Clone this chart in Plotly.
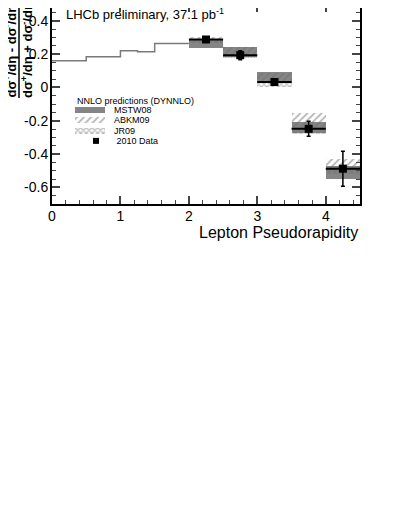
import plotly.graph_objects as go

# ── Data ─────────────────────────────────────────────────────────────────────
# low-eta prediction drawn as a grey step line
step_edges = [0.0, 0.5, 1.0, 1.25, 1.5, 2.0]
step_values = [0.159, 0.183, 0.219, 0.213, 0.263]

# measured bins (2010 data)
bin_centers = [2.25, 2.75, 3.25, 3.75, 4.25]
bin_halfwidth = [0.25, 0.25, 0.25, 0.25, 0.25]
data_asym = [0.287, 0.193, 0.032, -0.249, -0.488]
data_err = [0.008, 0.027, 0.010, 0.045, 0.105]

# NNLO prediction bands (low, high)
mstw_lo = [0.237, 0.183, 0.024, -0.275, -0.550]
mstw_hi = [0.285, 0.243, 0.090, -0.205, -0.474]
abkm_lo = [0.275, 0.190, 0.030, -0.240, -0.500]
abkm_hi = [0.305, 0.245, 0.085, -0.155, -0.428]
jr_lo = [0.265, 0.178, 0.005, -0.280, -0.520]
jr_hi = [0.285, 0.195, 0.030, -0.250, -0.490]

x_ticks = [0, 1, 2, 3, 4]
y_ticks = [-0.6, -0.4, -0.2, 0, 0.2, 0.4]
y_ticktext = ["-0.6", "-0.4", "-0.2", "0", "0.2", "0.4"]

legend_header = "NNLO predictions (DYNNLO)"
legend_names = ["MSTW08", "ABKM09", "JR09", " 2010 Data"]

# ── Styles / layout helpers ──────────────────────────────────────────────────
FONT = "Liberation Sans, Arial, Helvetica, sans-serif"
GREY = "#858585"
HATCH = "#6e6e6e"

# plot frame in page pixels (page has an 8px body offset)
PX_L, PX_R, PX_T, PX_B = 52, 360, 8, 204


def px(xp):
    return (xp - PX_L) / (PX_R - PX_L)


def py(yp):
    return (PX_B - yp) / (PX_B - PX_T)


abkm_pattern = dict(shape="/", fgcolor=HATCH, bgcolor="rgba(0,0,0,0)", size=5, solidity=0.35)
jr_pattern = dict(shape="x", fgcolor=HATCH, bgcolor="rgba(0,0,0,0)", size=4, solidity=0.55)


def band(lo, hi, **marker):
    return go.Bar(
        x=bin_centers,
        y=[h - l for l, h in zip(lo, hi)],
        base=lo,
        width=0.5,
        marker=dict(line=dict(width=0), **marker),
        hoverinfo="skip",
    )


fig = go.Figure()

# step line (drawn on x2 so the top axis ticks are rendered)
fig.add_trace(go.Scatter(
    x=step_edges,
    y=step_values + [step_values[-1]],
    mode="lines",
    line=dict(color="#7a7a7a", width=1.5, shape="hv"),
    xaxis="x2",
    hoverinfo="skip",
))

fig.add_trace(band(mstw_lo, mstw_hi, color=GREY))
fig.add_trace(band(abkm_lo, abkm_hi, color=HATCH, pattern=abkm_pattern))
fig.add_trace(band(jr_lo, jr_hi, color=HATCH, pattern=jr_pattern))

fig.add_trace(go.Scatter(
    x=bin_centers,
    y=data_asym,
    mode="markers",
    marker=dict(symbol="square", size=8, color="black"),
    error_x=dict(type="data", array=bin_halfwidth, color="black", thickness=2, width=0),
    error_y=dict(type="data", array=data_err, color="black", thickness=1.5, width=2),
))

# ── Legend drawn in a small inset axis ───────────────────────────────────────
legend_rows = [3.5, 2.5, 1.5, 0.5]
fig.add_trace(go.Bar(x=[1], y=[legend_rows[0]], base=0, orientation="h", width=0.6,
                     marker=dict(color=GREY, line=dict(width=0)), xaxis="x3", yaxis="y3"))
fig.add_trace(go.Bar(x=[1], y=[legend_rows[1]], base=0, orientation="h", width=0.6,
                     marker=dict(color=HATCH, pattern=abkm_pattern, line=dict(width=0)),
                     xaxis="x3", yaxis="y3"))
fig.add_trace(go.Bar(x=[1], y=[legend_rows[2]], base=0, orientation="h", width=0.6,
                     marker=dict(color=HATCH, pattern=jr_pattern, line=dict(width=0)),
                     xaxis="x3", yaxis="y3"))
fig.add_trace(go.Scatter(x=[0.7], y=[legend_rows[3]], mode="markers",
                         marker=dict(symbol="square", size=6, color="black"),
                         xaxis="x3", yaxis="y3"))

LEG_TOP, LEG_BOT = 105, 146
row_h = (LEG_BOT - LEG_TOP) / 4

annotations = [
    dict(text=legend_header, x=px(75), y=py(100.5), xref="paper", yref="paper",
         xanchor="left", yanchor="middle", showarrow=False, font=dict(size=9)),
]
for i, name in enumerate(legend_names):
    annotations.append(dict(text=name, x=px(112), y=py(LEG_TOP + row_h * (i + 0.5)),
                            xref="paper", yref="paper", xanchor="left", yanchor="middle",
                            showarrow=False, font=dict(size=9)))

num = "<b>dσ<sup>+</sup>/dη - dσ<sup>-</sup>/dη</b>"
den = "<b>dσ<sup>+</sup>/dη + dσ<sup>-</sup>/dη</b>"
annotations += [
    dict(text="LHCb preliminary, 37.1 pb<sup>-1</sup>", x=px(64), y=py(14),
         xref="paper", yref="paper", xanchor="left", yanchor="middle", showarrow=False,
         font=dict(size=13)),
    dict(text="Lepton Pseudorapidity", x=1, y=py(232), xref="paper", yref="paper",
         xanchor="right", yanchor="middle", showarrow=False, font=dict(size=16)),
    dict(text=num, textangle=-90, x=px(10), y=py(100),
         xref="paper", yref="paper", xanchor="center", yanchor="bottom", showarrow=False,
         font=dict(size=13)),
    dict(text=den, textangle=-90, x=px(27), y=py(100),
         xref="paper", yref="paper", xanchor="center", yanchor="bottom", showarrow=False,
         font=dict(size=13)),
]

fig.update_layout(
    width=409,
    height=529,
    margin=dict(l=PX_L - 8, r=409 - (PX_R - 8), t=PX_T - 8, b=529 - (PX_B - 8)),
    paper_bgcolor="white",
    plot_bgcolor="white",
    font=dict(family=FONT, color="black", size=14),
    showlegend=False,
    barmode="overlay",
    bargap=0,
    annotations=annotations,
    shapes=[dict(type="line", xref="paper", yref="paper",
                 x0=px(19), x1=px(19), y0=py(98), y1=1.2,
                 line=dict(color="black", width=1.5))],
    xaxis=dict(
        range=[0, 4.5], tickvals=x_ticks, ticks="inside", ticklen=8, tickwidth=1.5,
        showline=True, linewidth=2, linecolor="black", showgrid=False, zeroline=False,
        ticklabelstandoff=-2,
        minor=dict(dtick=0.2, ticks="inside", ticklen=4, tickwidth=1.2),
    ),
    xaxis2=dict(
        overlaying="x", matches="x", side="top", tickvals=x_ticks, ticks="inside",
        ticklen=4, tickwidth=1.5, showticklabels=False, showline=False, showgrid=False,
        zeroline=False,
    ),
    yaxis=dict(
        range=[-0.7, 0.476], tickvals=y_ticks, ticktext=y_ticktext, ticks="inside",
        ticklen=8, tickwidth=1.5, showline=True, linewidth=2, linecolor="black",
        mirror="ticks", showgrid=False, zeroline=False, ticklabelstandoff=-1,
        minor=dict(dtick=0.05, ticks="inside", ticklen=4, tickwidth=1.2),
    ),
    xaxis3=dict(domain=[px(75), px(105)], range=[0, 1], visible=False, anchor="y3"),
    yaxis3=dict(domain=[py(LEG_BOT), py(LEG_TOP)], range=[0, 4], visible=False, anchor="x3"),
)

fig.write_html("out.html")
